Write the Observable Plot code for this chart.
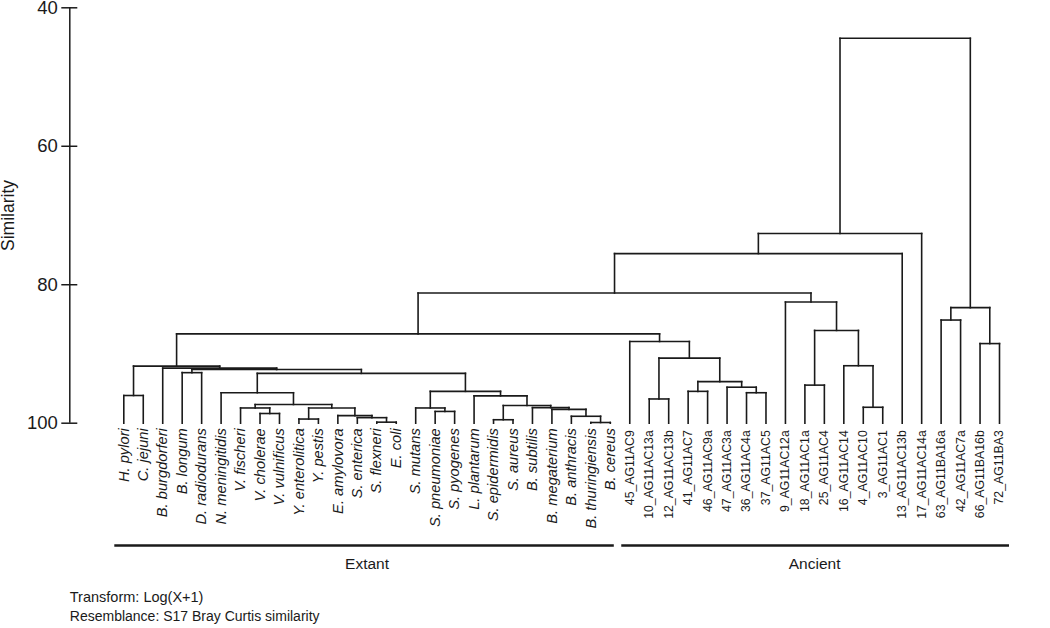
<!DOCTYPE html>
<html>
<head>
<meta charset="utf-8">
<script src="https://cdn.jsdelivr.net/npm/d3@7"></script>
<script src="https://cdn.jsdelivr.net/npm/@observablehq/plot@0.6"></script>
<style>
  html, body { margin: 0; padding: 0; background: #fff; }
  #chart svg { display: block; }
</style>
</head>
<body>
<div id="chart"></div>
<script>
// ---- data ----
const extantLeaves = [
  "H. pylori", "C. jejuni", "B. burgdorferi", "B. longum", "D. radiodurans",
  "N. meningitidis", "V. fischeri", "V. cholerae", "V. vulnificus", "Y. enterolitica",
  "Y. pestis", "E. amylovora", "S. enterica", "S. flexneri", "E. coli",
  "S. mutans", "S. pneumoniae", "S. pyogenes", "L. plantarum", "S. epidermidis",
  "S. aureus", "B. subtilis", "B. megaterium", "B. anthracis", "B. thuringiensis", "B. cereus"
];
const ancientLeaves = [
  "45_AG11AC9", "10_AG11AC13a", "12_AG11AC13b", "41_AG11AC7", "46_AG11AC9a",
  "47_AG11AC3a", "36_AG11AC4a", "37_AG11AC5", "9_AG11AC12a", "18_AG11AC1a",
  "25_AG11AC4", "16_AG11AC14", "4_AG11AC10", "3_AG11AC1", "13_AG11AC13b",
  "17_AG11AC14a", "63_AG11BA16a", "42_AG11AC7a", "66_AG11BA16b", "72_AG11BA3"
];
// merges: [id, childA, childB, similarity at which they join]
const extantMerges = [
  ["e1", "H. pylori", "C. jejuni", 96.0],
  ["e2", "B. longum", "D. radiodurans", 92.7],
  ["e3", "V. cholerae", "V. vulnificus", 98.6],
  ["e4", "V. fischeri", "e3", 97.8],
  ["e5", "Y. enterolitica", "Y. pestis", 99.4],
  ["e6", "S. flexneri", "E. coli", 99.85],
  ["e7", "S. enterica", "e6", 99.2],
  ["e8", "E. amylovora", "e7", 98.9],
  ["e9", "e5", "e8", 97.8],
  ["e10", "e4", "e9", 97.3],
  ["e11", "N. meningitidis", "e10", 95.6],
  ["e12", "S. pneumoniae", "S. pyogenes", 98.3],
  ["e13", "S. mutans", "e12", 97.8],
  ["e14", "S. epidermidis", "S. aureus", 99.5],
  ["e15", "B. thuringiensis", "B. cereus", 99.9],
  ["e16", "B. anthracis", "e15", 99.0],
  ["e17", "B. megaterium", "e16", 98.0],
  ["e18", "B. subtilis", "e17", 97.75],
  ["e19", "e14", "e18", 97.45],
  ["e20", "L. plantarum", "e19", 96.05],
  ["e21", "e13", "e20", 95.4],
  ["e22", "e11", "e21", 92.8],
  ["e23", "e2", "e22", 92.25],
  ["e24", "B. burgdorferi", "e23", 92.05],
  ["e25", "e1", "e24", 91.75]
];
const ancientMerges = [
  ["a1", "10_AG11AC13a", "12_AG11AC13b", 96.5],
  ["a2", "41_AG11AC7", "46_AG11AC9a", 95.4],
  ["a3", "36_AG11AC4a", "37_AG11AC5", 95.6],
  ["a4", "47_AG11AC3a", "a3", 94.8],
  ["a5", "a2", "a4", 94.0],
  ["a6", "a1", "a5", 90.6],
  ["a7", "45_AG11AC9", "a6", 88.2],
  ["a8", "18_AG11AC1a", "25_AG11AC4", 94.5],
  ["a9", "4_AG11AC10", "3_AG11AC1", 97.7],
  ["a10", "16_AG11AC14", "a9", 91.7],
  ["a11", "a8", "a10", 86.6],
  ["a12", "9_AG11AC12a", "a11", 82.5],
  ["a13", "63_AG11BA16a", "42_AG11AC7a", 85.1],
  ["a14", "66_AG11BA16b", "72_AG11BA3", 88.5],
  ["a15", "a13", "a14", 83.3]
];
const topMerges = [
  ["c1", "e25", "a7", 87.1],
  ["c2", "c1", "a12", 81.2],
  ["c3", "c2", "13_AG11AC13b", 75.5],
  ["c4", "c3", "17_AG11AC14a", 72.6],
  ["c5", "c4", "a15", 44.4]
];
const yTicks = [40, 60, 80, 100];
const yLabel = "Similarity";
const groupNames = ["Extant", "Ancient"];
const captionLines = ["Transform: Log(X+1)", "Resemblance: S17 Bray Curtis similarity"];

(function () {
  // ---- build tables ----
  const leaves = [
    ...extantLeaves.map(name => ({name, group: groupNames[0]})),
    ...ancientLeaves.map(name => ({name, group: groupNames[1]}))
  ].map((d, i) => ({...d, index: i}));

  const leafSim = yTicks[yTicks.length - 1];
  const pos = new Map(leaves.map(d => [d.name, {x: d.index, y: leafSim}]));
  const segments = [];
  for (const [id, a, b, s] of [...extantMerges, ...ancientMerges, ...topMerges]) {
    const A = pos.get(a), B = pos.get(b);
    segments.push({x1: A.x, y1: A.y, x2: A.x, y2: s});
    segments.push({x1: B.x, y1: B.y, x2: B.x, y2: s});
    segments.push({x1: A.x, y1: s, x2: B.x, y2: s});
    pos.set(id, {x: (A.x + B.x) / 2, y: s});
  }

  const groups = groupNames.map(name => {
    const idx = leaves.filter(d => d.group === name).map(d => d.index);
    return {name, first: d3.min(idx), last: d3.max(idx)};
  });

  // ---- layout ----
  const W = 1050, H = 628;
  const axisX = 69.3, yTop = 7.3, yBottom = 422.7;
  const xRange = [123.3, 999];
  const font = "'Liberation Sans', Arial, Helvetica, sans-serif";
  const ink = "#1a1a1a";

  const chart = Plot.plot({
    width: W,
    height: H,
    marginLeft: axisX,
    marginTop: yTop,
    marginBottom: H - yBottom,
    marginRight: 20,
    style: {fontFamily: font, fontSize: "14px", background: "#fff", color: ink, overflow: "visible"},
    x: {type: "linear", domain: [0, leaves.length - 1], range: xRange, axis: null},
    y: {type: "linear", domain: [yTicks[yTicks.length - 1], yTicks[0]], range: [yBottom, yTop]},
    marks: [
      Plot.ruleX([0], {y1: yTicks[0], y2: yTicks[yTicks.length - 1], dx: axisX - xRange[0], stroke: ink, strokeWidth: 1.5}),
      Plot.axisY({ticks: yTicks, tickSize: 16, dx: 8, tickFormat: () => "", label: null, stroke: ink, strokeWidth: 1.5}),
      Plot.axisY({ticks: yTicks, tickSize: 0, tickPadding: 12, fontSize: 18.5, label: null, fill: ink}),
      Plot.text([yLabel], {frameAnchor: "left", textAnchor: "middle", rotate: -90, dx: -61, fontSize: 17.5, fill: ink}),
      Plot.link(segments, {x1: "x1", y1: "y1", x2: "x2", y2: "y2", stroke: ink, strokeWidth: 1.6, strokeLinecap: "square"}),
      Plot.text(leaves.filter(d => d.group === groupNames[0]), {
        x: "index", y: () => leafSim, text: "name", rotate: -90, textAnchor: "end",
        dy: 5, fontSize: 14.7, fontStyle: "italic", fill: ink
      }),
      Plot.text(leaves.filter(d => d.group === groupNames[1]), {
        x: "index", y: () => leafSim, text: "name", rotate: -90, textAnchor: "end",
        dy: 7, fontSize: 12.3, fill: ink
      }),
      Plot.ruleY(groups.filter(d => d.name === groupNames[0]), {
        x1: "first", x2: "last", y: () => leafSim, dy: 122.3, insetLeft: -9, insetRight: -4,
        stroke: ink, strokeWidth: 2.6
      }),
      Plot.ruleY(groups.filter(d => d.name === groupNames[1]), {
        x1: "first", x2: "last", y: () => leafSim, dy: 122.3, insetLeft: -8, insetRight: -10,
        stroke: ink, strokeWidth: 2.6
      }),
      Plot.text(groups, {x: d => (d.first + d.last) / 2, y: () => leafSim, text: "name", dy: 140.8, fontSize: 15.5, fill: ink}),
      Plot.text([captionLines[0]], {frameAnchor: "bottom-left", textAnchor: "start", dy: 178.5, fontSize: 14.5, fill: ink}),
      Plot.text([captionLines[1]], {frameAnchor: "bottom-left", textAnchor: "start", dy: 197.5, fontSize: 14, fill: ink})
    ]
  });
  document.getElementById("chart").appendChild(chart);
})();
</script>
</body>
</html>
